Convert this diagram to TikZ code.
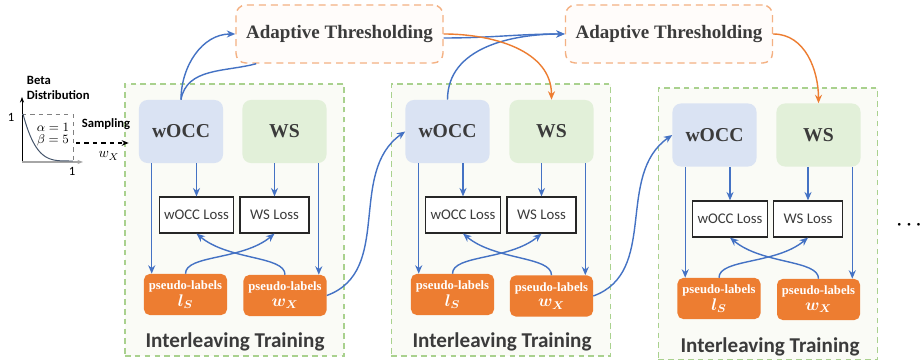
\documentclass[tikz,border=0pt]{standalone}
\usepackage{fontspec}
\usepackage{amsmath}
\setmainfont{Liberation Serif}
\newfontfamily\carlito{Carlito}
\usetikzlibrary{arrows.meta, positioning, calc}
\definecolor{flowblue}{HTML}{4472C4}
\definecolor{floworange}{HTML}{ED7D31}
\definecolor{occfill}{HTML}{DAE3F3}
\definecolor{wsfill}{HTML}{E2F0D9}
\definecolor{grpgreen}{HTML}{A9D18E}
\definecolor{grpfill}{HTML}{FAFBF6}
\definecolor{atorange}{HTML}{F4B183}
\definecolor{atfill}{HTML}{FFFCFA}
\definecolor{txtgray}{HTML}{3B3B3B}
\definecolor{curveblue}{HTML}{44546A}

\begin{document}
\begin{tikzpicture}[x=0.025cm, y=0.025cm,
    group/.style={draw=grpgreen, fill=grpfill, line width=0.8pt, dash pattern=on 4pt off 3pt,
                  minimum width=5.475cm, minimum height=6.8cm},
    model/.style={fill=#1, rounded corners=6pt, minimum width=2.1cm, minimum height=1.575cm,
                  font=\bfseries\fontsize{14}{16}\selectfont, text=txtgray},
    loss/.style={draw=black!85, fill=white, line width=0.8pt, minimum width=1.725cm, minimum height=0.9cm,
                 font=\carlito\fontsize{10.5}{12}\selectfont, text=txtgray},
    pseudo/.style={fill=floworange, rounded corners=4pt, minimum width=2.075cm, minimum height=1.025cm,
                   align=center, text=white, inner sep=1pt, font=\bfseries\fontsize{9}{10}\selectfont},
    thresh/.style={draw=atorange, fill=atfill, rounded corners=7pt, line width=1pt, dash pattern=on 5pt off 3.5pt,
                   minimum width=5.175cm, minimum height=1.45cm,
                   font=\bfseries\fontsize{13.5}{16}\selectfont, text=txtgray},
    caption/.style={font=\carlito\bfseries\fontsize{15}{18}\selectfont, text=txtgray},
    small/.style={font=\carlito\bfseries\fontsize{9}{11}\selectfont, text=black},
    flow/.style={-{Stealth[length=6pt, width=5pt]}, line width=1pt, #1},
    flow/.default=flowblue,
    cross/.style={out=90, in=#1, out looseness=0.5, in looseness=1.1},
]
    \fill[white] (0,0) rectangle (920,360);
    \useasboundingbox (0,0) rectangle (920,360);

    % === round 1 ===
    \node[group] (grp1) at (234.5,140) {};
    \node[model=occfill] (wocc1) at (181,228.5) {wOCC};
    \node[model=wsfill] (ws1) at (284.5,228.5) {WS};
    \node[loss] (woccloss1) at (196.5,145) {wOCC Loss};
    \node[loss] (wsloss1) at (274.5,145) {WS Loss};
    \node[pseudo] (ls1) at (185.5,65.5) {pseudo-labels\\[1pt] {\fontsize{12}{12}\selectfont$\boldsymbol{l_S}$}};
    \node[pseudo] (wx1) at (285,64.5) {pseudo-labels\\[1pt] {\fontsize{12}{12}\selectfont$\boldsymbol{w_X}$}};
    \node[caption] (train1) at (235,18) {Interleaving Training};

    % === round 2 ===
    \node[group] (grp2) at (501,140) {};
    \node[model=occfill] (wocc2) at (447.5,228.5) {wOCC};
    \node[model=wsfill] (ws2) at (551.5,228.5) {WS};
    \node[loss] (woccloss2) at (463,145) {wOCC Loss};
    \node[loss] (wsloss2) at (541.5,145) {WS Loss};
    \node[pseudo] (ls2) at (452.5,65.5) {pseudo-labels\\[1pt] {\fontsize{12}{12}\selectfont$\boldsymbol{l_S}$}};
    \node[pseudo] (wx2) at (551.5,64) {pseudo-labels\\[1pt] {\fontsize{12}{12}\selectfont$\boldsymbol{w_X}$}};
    \node[caption] (train2) at (502,18) {Interleaving Training};

    % === round 3 ===
    \node[group] (grp3) at (768,136) {};
    \node[model=occfill] (wocc3) at (714.5,225) {wOCC};
    \node[model=wsfill] (ws3) at (818.5,225) {WS};
    \node[loss] (woccloss3) at (730,141) {wOCC Loss};
    \node[loss] (wsloss3) at (808,141) {WS Loss};
    \node[pseudo] (ls3) at (719,61.5) {pseudo-labels\\[1pt] {\fontsize{12}{12}\selectfont$\boldsymbol{l_S}$}};
    \node[pseudo] (wx3) at (818.5,60.5) {pseudo-labels\\[1pt] {\fontsize{12}{12}\selectfont$\boldsymbol{w_X}$}};
    \node[caption] (train3) at (770,13) {Interleaving Training};

    \node[inner sep=0pt, font=\fontsize{8}{8}\selectfont] (more) at (909,134)
        {\textbullet\kern4pt\textbullet\kern4pt\textbullet};

    % === thresholding ===
    \node[thresh] (at1) at (339.5,326) {Adaptive Thresholding};
    \node[thresh] (at2) at (669,326) {Adaptive Thresholding};

    % === beta distribution ===
    \coordinate (orig) at (22,198);
    \draw[-{Stealth[length=4pt, width=3pt]}, line width=0.6pt] (orig) -- (22,263);
    \draw[-{Stealth[length=4pt, width=3pt]}, gray!70, line width=1pt] (orig) -- (83,198);
    \draw[dashed, gray, line width=0.4pt] (22,246) -- (73,246) -- (73,198);
    \draw[curveblue, line width=0.7pt] plot[domain=0:1, samples=40] ({23+50*\x}, {199+47*(1-\x)^4});
    \node[small, font=\carlito\fontsize{9}{11}\selectfont] (oney) at (11,243) {1};
    \node[small, font=\carlito\fontsize{9}{11}\selectfont] (onex) at (72,189) {1};
    \node[font=\fontsize{9}{11}\selectfont] (alpha) at (53,233) {$\alpha=1$};
    \node[font=\fontsize{9}{11}\selectfont] (beta) at (53,220) {$\beta=5$};
    \node[small, anchor=west, align=left] (betalbl) at (22,272) {Beta\\Distribution};
    \node[small] (samp) at (106,236) {Sampling};
    \node (wxlbl) at (109,204) {$w_X$};

    % sampling arrow
    \coordinate (smp) at (76,217);
    \draw[dashed, -{Stealth[length=5pt, width=4pt]}, line width=0.8pt] (smp) -- ([xshift=-0.25cm]smp -| wocc1.west);

    % inner arrows
    \draw[flow] ([xshift=0.2cm]ls1.north west |- wocc1.south) -- ([xshift=0.2cm]ls1.north west);
    \draw[flow] (woccloss1.north |- wocc1.south) -- (woccloss1.north);
    \draw[flow] (wsloss1.north |- ws1.south) -- (wsloss1.north);
    \draw[flow] ([xshift=-0.2cm]wx1.north east |- ws1.south) -- ([xshift=-0.2cm]wx1.north east);
    \draw[flow] (ls1.north) to[cross=-140] (wsloss1.south);
    \draw[flow] (wx1.north) to[cross=-40] (woccloss1.south);

    \draw[flow] ([xshift=0.2cm]ls2.north west |- wocc2.south) -- ([xshift=0.2cm]ls2.north west);
    \draw[flow] (woccloss2.north |- wocc2.south) -- (woccloss2.north);
    \draw[flow] (wsloss2.north |- ws2.south) -- (wsloss2.north);
    \draw[flow] ([xshift=-0.2cm]wx2.north east |- ws2.south) -- ([xshift=-0.2cm]wx2.north east);
    \draw[flow] (ls2.north) to[cross=-140] (wsloss2.south);
    \draw[flow] (wx2.north) to[cross=-40] (woccloss2.south);

    \draw[flow] ([xshift=0.2cm]ls3.north west |- wocc3.south) -- ([xshift=0.2cm]ls3.north west);
    \draw[flow] (woccloss3.north |- wocc3.south) -- (woccloss3.north);
    \draw[flow] (wsloss3.north |- ws3.south) -- (wsloss3.north);
    \draw[flow] ([xshift=-0.2cm]wx3.north east |- ws3.south) -- ([xshift=-0.2cm]wx3.north east);
    \draw[flow] (ls3.north) to[cross=-140] (wsloss3.south);
    \draw[flow] (wx3.north) to[cross=-40] (woccloss3.south);

    % between rounds
    \draw[flow] (wx1.east) to[out=20, in=215] (wocc2.west);
    \draw[flow] (wx2.east) to[out=20, in=215] (wocc3.west);

    % to and from thresholding
    \draw[flow] (wocc1.north) to[out=90, in=180] (at1.west);
    \draw[line width=1pt, flowblue] (wocc1.north) to[out=80, in=195] ([xshift=0.525cm]at1.south west);
    \draw[flow] ([yshift=-0.1cm]at1.east) to[out=0, in=180] (at2.west);
    \draw[flow] (wocc2.north) to[out=90, in=180] (at2.west);
    \draw[flow=floworange] (at1.east) to[out=0, in=90] (ws2.north);
    \draw[flow=floworange] (at2.east) to[out=0, in=90] (ws3.north);
\end{tikzpicture}
\end{document}
